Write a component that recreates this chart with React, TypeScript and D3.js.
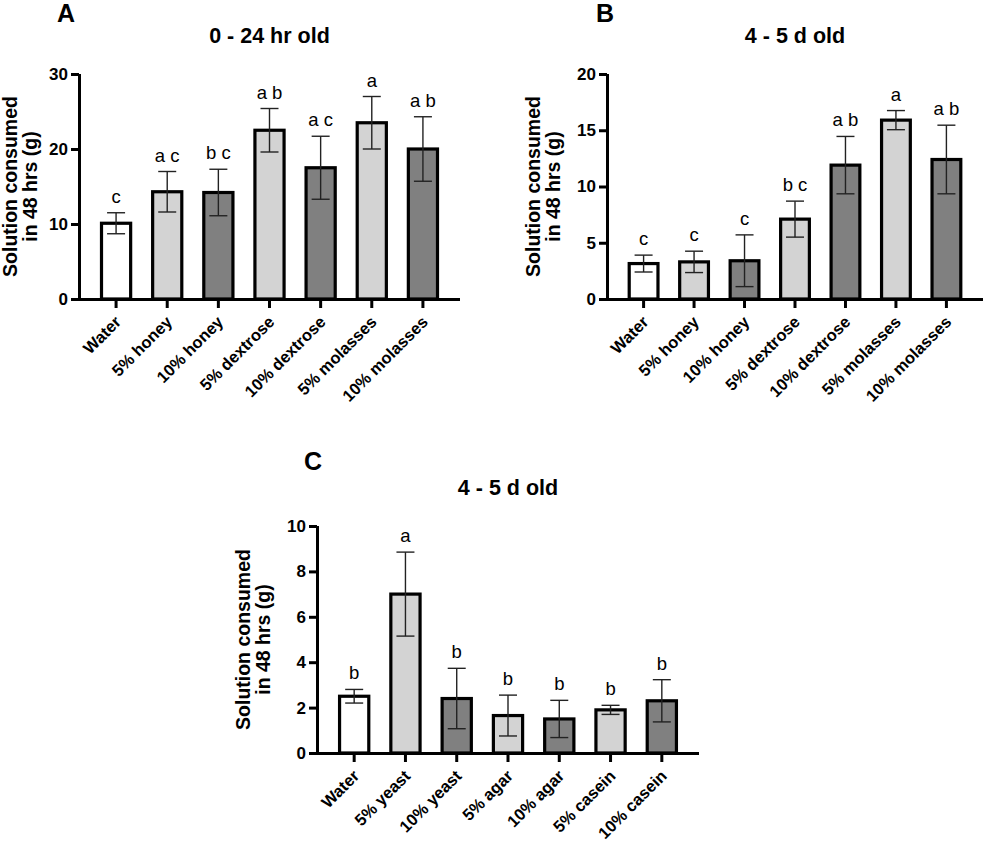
import * as d3 from "d3";
import { useEffect, useRef } from "react";

// categories
const sugarCategories = ["Water", "5% honey", "10% honey", "5% dextrose", "10% dextrose", "5% molasses", "10% molasses"];
const proteinCategories = ["Water", "5% yeast", "10% yeast", "5% agar", "10% agar", "5% casein", "10% casein"];

// A: 0 - 24 hr old
const youngMeans = [10.1, 14.3, 14.2, 22.5, 17.5, 23.5, 20.0];
const youngErrors = [1.4, 2.7, 3.1, 2.9, 4.2, 3.5, 4.3];
const youngLetters = ["c", "a c", "b c", "a b", "a c", "a", "a b"];

// B: 4 - 5 d old, sugars
const olderMeans = [3.15, 3.3, 3.4, 7.1, 11.9, 15.9, 12.4];
const olderErrors = [0.75, 0.95, 2.3, 1.6, 2.55, 0.85, 3.05];
const olderLetters = ["c", "c", "c", "b c", "a b", "a", "a b"];

// C: 4 - 5 d old, proteins
const proteinMeans = [2.5, 7.0, 2.4, 1.65, 1.5, 1.9, 2.3];
const proteinErrors = [0.3, 1.85, 1.33, 0.9, 0.82, 0.2, 0.93];
const proteinLetters = ["b", "a", "b", "b", "b", "b", "b"];

const yTicksA = [0, 10, 20, 30];
const yTicksB = [0, 5, 10, 15, 20];
const yTicksC = [0, 2, 4, 6, 8, 10];

const fills = ["#ffffff", "#d3d3d3", "#808080", "#d3d3d3", "#808080", "#d3d3d3", "#808080"];
const FONT = "Arial, 'Liberation Sans', Helvetica, sans-serif";

type Panel = {
  tag: string;
  title: string;
  categories: string[];
  means: number[];
  errors: number[];
  letters: string[];
  ticks: number[];
  x0: number;
  x1: number;
  yTop: number;
  yBottom: number;
  tagX: number;
  tagY: number;
  titleY: number;
  labelX: number;
};

const panels: Panel[] = [
  {
    tag: "A", title: "0 - 24 hr old", categories: sugarCategories,
    means: youngMeans, errors: youngErrors, letters: youngLetters, ticks: yTicksA,
    x0: 79, x1: 460, yTop: 74, yBottom: 299, tagX: 57, tagY: 22, titleY: 43, labelX: 17
  },
  {
    tag: "B", title: "4 - 5 d old", categories: sugarCategories,
    means: olderMeans, errors: olderErrors, letters: olderLetters, ticks: yTicksB,
    x0: 607, x1: 983, yTop: 74, yBottom: 299, tagX: 596, tagY: 22, titleY: 43, labelX: 540
  },
  {
    tag: "C", title: "4 - 5 d old", categories: proteinCategories,
    means: proteinMeans, errors: proteinErrors, letters: proteinLetters, ticks: yTicksC,
    x0: 317, x1: 699, yTop: 526, yBottom: 753, tagX: 304, tagY: 470, titleY: 495, labelX: 250
  }
];

const App = () => {
  const svgRef = useRef<SVGSVGElement | null>(null);

  useEffect(() => {
    const svg = d3.select(svgRef.current);
    svg.selectAll("*").remove();

    panels.forEach(p => {
      const x = d3.scaleBand()
        .domain(p.categories)
        .range([p.x0, p.x1])
        .paddingInner(0.43)
        .paddingOuter(0.44);

      const y = d3.scaleLinear()
        .domain([0, p.ticks[p.ticks.length - 1]])
        .range([p.yBottom, p.yTop]);

      const g = svg.append("g").attr("font-family", FONT);

      // panel tag + title
      g.append("text")
        .attr("x", p.tagX).attr("y", p.tagY)
        .attr("font-size", 25).attr("font-weight", "bold")
        .text(p.tag);
      g.append("text")
        .attr("x", (p.x0 + p.x1) / 2).attr("y", p.titleY)
        .attr("text-anchor", "middle")
        .attr("font-size", 21.5).attr("font-weight", "bold")
        .text(p.title);

      // y label, two lines
      const midY = (p.yTop + p.yBottom) / 2;
      ["Solution consumed", "in 48 hrs (g)"].forEach((line, i) => {
        g.append("text")
          .attr("transform", `translate(${p.labelX + i * 20},${midY}) rotate(-90)`)
          .attr("text-anchor", "middle")
          .attr("font-size", 19.5).attr("font-weight", "bold")
          .text(line);
      });

      // bars
      const data = p.categories.map((c, i) => ({ c, m: p.means[i], e: p.errors[i], l: p.letters[i], i }));
      g.selectAll("rect.bar")
        .data(data)
        .enter()
        .append("rect")
        .attr("class", "bar")
        .attr("x", d => x(d.c)!)
        .attr("width", x.bandwidth())
        .attr("y", d => y(d.m))
        .attr("height", d => y(0) - y(d.m))
        .attr("fill", d => fills[d.i])
        .attr("stroke", "#000")
        .attr("stroke-width", 3.2);

      // error bars
      const cap = 9;
      const eb = g.selectAll("g.err").data(data).enter().append("g").attr("class", "err")
        .attr("stroke", "#222").attr("stroke-width", 1.4);
      eb.append("line")
        .attr("x1", d => x(d.c)! + x.bandwidth() / 2)
        .attr("x2", d => x(d.c)! + x.bandwidth() / 2)
        .attr("y1", d => y(d.m + d.e))
        .attr("y2", d => y(Math.max(0, d.m - d.e)));
      eb.append("line")
        .attr("x1", d => x(d.c)! + x.bandwidth() / 2 - cap)
        .attr("x2", d => x(d.c)! + x.bandwidth() / 2 + cap)
        .attr("y1", d => y(d.m + d.e))
        .attr("y2", d => y(d.m + d.e));
      eb.append("line")
        .attr("x1", d => x(d.c)! + x.bandwidth() / 2 - cap)
        .attr("x2", d => x(d.c)! + x.bandwidth() / 2 + cap)
        .attr("y1", d => y(Math.max(0, d.m - d.e)))
        .attr("y2", d => y(Math.max(0, d.m - d.e)));

      // significance letters
      g.selectAll("text.sig")
        .data(data)
        .enter()
        .append("text")
        .attr("class", "sig")
        .attr("x", d => x(d.c)! + x.bandwidth() / 2)
        .attr("y", d => y(d.m + d.e) - 10)
        .attr("text-anchor", "middle")
        .attr("font-size", 18.5)
        .text(d => d.l);

      // y axis
      const yAxis = g.append("g")
        .attr("transform", `translate(${p.x0},0)`)
        .call(d3.axisLeft(y).tickValues(p.ticks).tickSize(8).tickSizeOuter(0).tickPadding(3));
      yAxis.attr("font-family", FONT).attr("font-size", 17).attr("font-weight", "bold");
      yAxis.select(".domain").attr("stroke-width", 3).attr("d", `M0.5,${p.yTop}V${p.yBottom}`);
      yAxis.selectAll(".tick line").attr("stroke-width", 3);
      yAxis.selectAll(".tick text").attr("fill", "#000");

      // x axis
      const xAxis = g.append("g")
        .attr("transform", `translate(0,${p.yBottom})`)
        .call(d3.axisBottom(x).tickSize(9).tickSizeOuter(0));
      xAxis.attr("font-family", FONT).attr("font-size", 16.5).attr("font-weight", "bold");
      xAxis.select(".domain").attr("stroke-width", 3).attr("d", `M${p.x0 - 8},0.5H${p.x1}`);
      xAxis.selectAll(".tick line").attr("stroke-width", 3);
      xAxis.selectAll(".tick text")
        .attr("fill", "#000")
        .attr("text-anchor", "end")
        .attr("x", 0).attr("y", 0).attr("dy", 0)
        .attr("transform", "translate(6,24) rotate(-45)");
    });
  }, []);

  return (
    <div style={{ position: "absolute", left: 0, top: 0 }}>
      <svg ref={svgRef} width={986} height={843} style={{ display: "block", background: "#fff" }}></svg>
    </div>
  );
};

export default App;
